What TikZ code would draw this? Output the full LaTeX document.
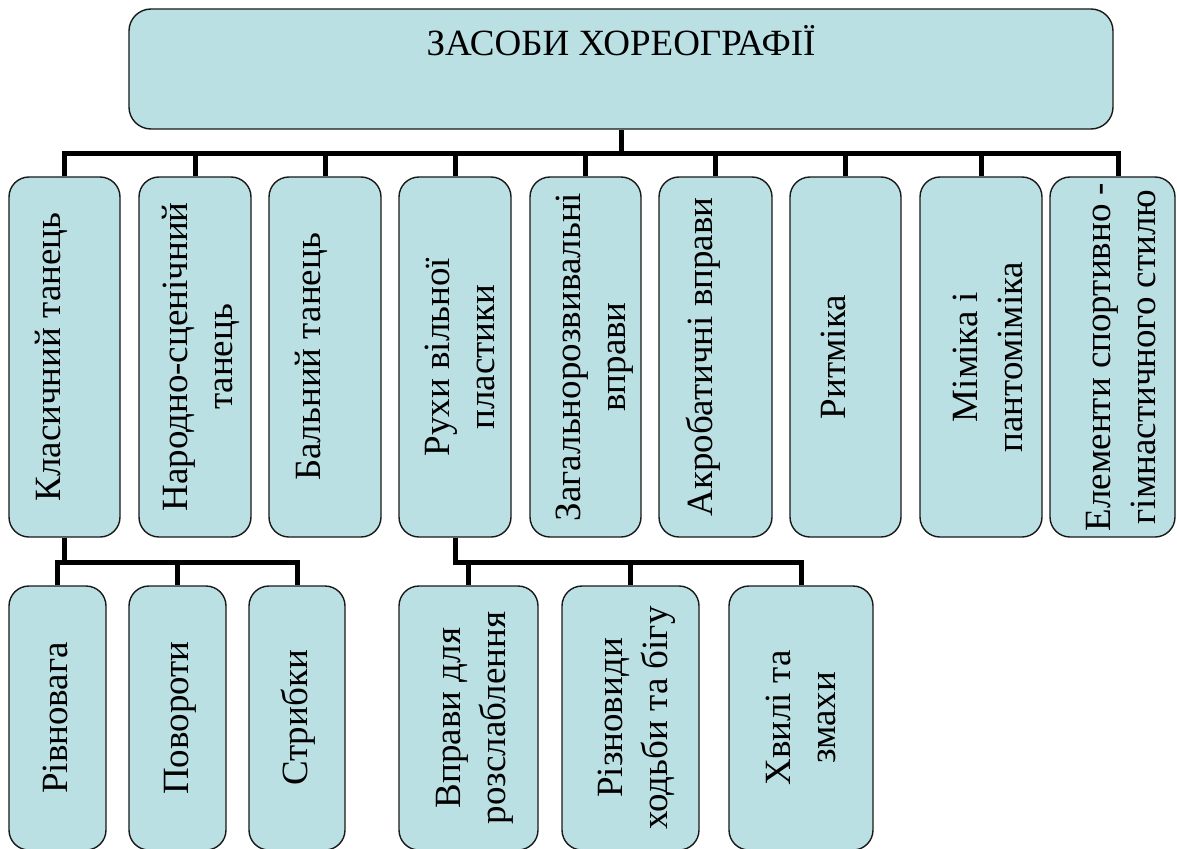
\documentclass[tikz,border=0pt]{standalone}
\usepackage{fontspec}
\setmainfont{Liberation Serif}
\definecolor{boxfill}{RGB}{187,224,227}
\begin{document}
\begin{tikzpicture}[x=1bp,y=-1bp,
  box/.style={draw=black!90, line width=1.4bp, fill=boxfill, rounded corners=20bp, inner sep=0pt},
  conn/.style={line width=5bp, black},
  txt/.style={font=\rmfamily\fontsize{37bp}{44.5bp}\selectfont, inner sep=0pt, align=center},
  vtxt/.style={txt, rotate=90, anchor=base}]
\useasboundingbox (0,0) rectangle (1177,849);
\clip (0,0) rectangle (1177,849);
% top box
\node[box, minimum width=984bp, minimum height=120bp, rounded corners=22bp] (top) at (621,69) {};
% level 1 boxes
\node[box, minimum width=111bp, minimum height=360bp] (k1) at (64.5,357) {};
\node[box, minimum width=112bp, minimum height=360bp] (k2) at (195,357) {};
\node[box, minimum width=112bp, minimum height=360bp] (k3) at (325,357) {};
\node[box, minimum width=112bp, minimum height=360bp] (k4) at (455,357) {};
\node[box, minimum width=111bp, minimum height=360bp] (k5) at (585.5,357) {};
\node[box, minimum width=113bp, minimum height=360bp] (k6) at (715.5,357) {};
\node[box, minimum width=111bp, minimum height=360bp] (k7) at (845.5,357) {};
\node[box, minimum width=122bp, minimum height=360bp] (k8) at (981,357) {};
\node[box, minimum width=125bp, minimum height=360bp] (k9) at (1112.5,357) {};
% level 2 boxes
\node[box, minimum width=97bp, minimum height=264bp] (l1) at (57.5,718) {};
\node[box, minimum width=97bp, minimum height=264bp] (l2) at (177.5,718) {};
\node[box, minimum width=96bp, minimum height=264bp] (l3) at (297,718) {};
\node[box, minimum width=139bp, minimum height=264bp] (l4) at (468.5,718) {};
\node[box, minimum width=137bp, minimum height=264bp] (l5) at (630.5,718) {};
\node[box, minimum width=144bp, minimum height=264bp] (l6) at (801,718) {};
% bars
\coordinate (b1) at (0,153);
\coordinate (s1) at (0,562);
\coordinate (s2) at (0,562);
\coordinate (k9top) at ([xshift=5.5bp]k9.north);
\draw[conn] (top.south) -- (top.south |- b1);
\draw[conn] (k1.north) -- (k1.north |- b1) -- (k9top |- b1) -- (k9top);
\foreach \n in {k2,k3,k4,k5,k6,k7,k8} \draw[conn] (\n.north |- b1) -- (\n.north);
\draw[conn] (k1.south) -- (k1.south |- s1);
\draw[conn] (l1.north) -- (l1.north |- s1) -- (l3.north |- s1) -- (l3.north);
\draw[conn] (l2.north |- s1) -- (l2.north);
\draw[conn] (k4.south) -- (k4.south |- s2) -- (l6.north |- s2) -- (l6.north);
\draw[conn] (l4.north |- s2) -- (l4.north);
\draw[conn] (l5.north |- s2) -- (l5.north);
% texts
\node[txt, anchor=base] (tt) at (621,55) {ЗАСОБИ ХОРЕОГРАФІЇ};
\node[vtxt] (t1) at (60,357) {Класичний танець};
\node[vtxt] (t2) at (232,357) {Народно-сценічний\\танець};
\node[vtxt] (t3) at (320,357) {Бальний танець};
\node[vtxt] (t4) at (494,357) {Рухи вільної\\пластики};
\node[vtxt] (t5) at (625,357) {Загальнорозвивальні\\вправи};
\node[vtxt] (t6) at (712,357) {Акробатичні вправи};
\node[vtxt] (t7) at (845,357) {Ритміка};
\node[vtxt] (t8) at (1022,357) {Міміка і\\пантоміміка};
\node[vtxt] (t9) at (1155,357) {Елементи спортивно -\\гімнастичного стилю};
\node[vtxt] (u1) at (67,718) {Рівновага};
\node[vtxt] (u2) at (188,718) {Повороти};
\node[vtxt] (u3) at (307,718) {Стрибки};
\node[vtxt] (u4) at (505,718) {Вправи для\\розслаблення};
\node[vtxt] (u5) at (667,718) {Різновиди\\ходьби та бігу};
\node[vtxt] (u6) at (835,718) {Хвилі та\\змахи};
\end{tikzpicture}
\end{document}
